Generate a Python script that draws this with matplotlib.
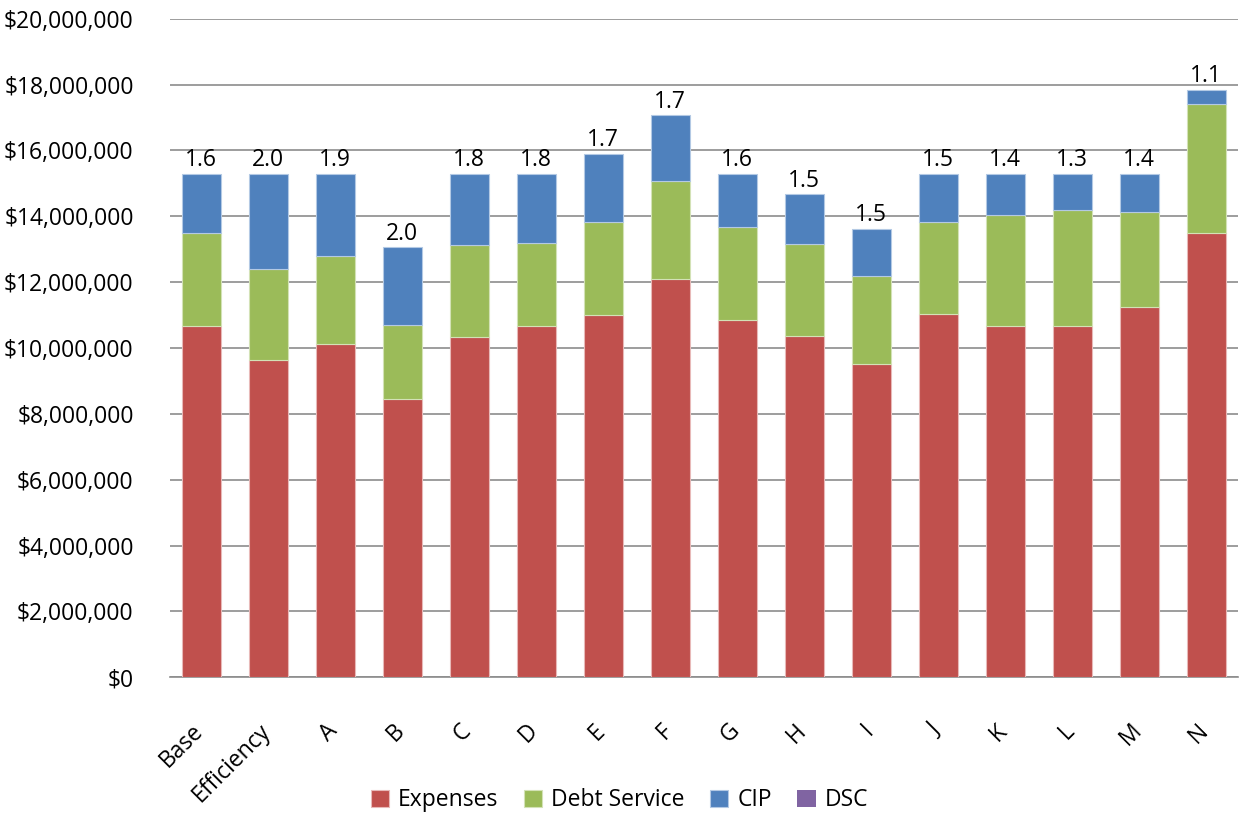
import numpy as np
import matplotlib.pyplot as plt
import matplotlib.transforms as mtransforms
from matplotlib.ticker import FuncFormatter

plt.rcParams['font.family'] = ['Open Sans', 'DejaVu Sans']

scenarios = ['Base', 'Efficiency', 'A', 'B', 'C', 'D', 'E', 'F', 'G', 'H', 'I', 'J', 'K', 'L', 'M', 'N']
expenses = [10.67, 9.64, 10.12, 8.45, 10.33, 10.67, 11.00, 12.10, 10.85, 10.36, 9.51, 11.03, 10.67, 10.67, 11.25, 13.50]
debt_total = [13.50, 12.40, 12.80, 10.70, 13.13, 13.19, 13.83, 15.08, 13.68, 13.16, 12.19, 13.83, 14.04, 14.19, 14.13, 17.42]
cip_total = [15.29, 15.29, 15.29, 13.07, 15.29, 15.29, 15.90, 17.08, 15.29, 14.68, 13.62, 15.29, 15.29, 15.29, 15.29, 17.84]
dsc = [1.6, 2.0, 1.9, 2.0, 1.8, 1.8, 1.7, 1.7, 1.6, 1.5, 1.5, 1.5, 1.4, 1.3, 1.4, 1.1]

expenses = np.array(expenses) * 1e6
debt = np.array(debt_total) * 1e6 - expenses
cip = np.array(cip_total) * 1e6 - np.array(debt_total) * 1e6

x = np.arange(len(scenarios))
w = 0.58

fig, ax = plt.subplots(figsize=(12.39, 8.15), dpi=100)
fig.subplots_adjust(left=0.137, right=0.999, top=0.977, bottom=0.169)

ax.bar(x, expenses, w, color='#C0504D', edgecolor='#E8B9B8', linewidth=0.8, label='Expenses', zorder=3)
ax.bar(x, debt, w, bottom=expenses, color='#9BBB59', edgecolor='#D3E2B6', linewidth=0.8, label='Debt Service', zorder=3)
ax.bar(x, cip, w, bottom=expenses + debt, color='#4F81BD', edgecolor='#B3C9E4', linewidth=0.8, label='CIP', zorder=3)
tops = expenses + debt + cip
ax.bar(x, dsc, w, bottom=tops, color='#8064A2', label='DSC', zorder=3)

for xi, t, d in zip(x, tops, dsc):
    ax.annotate(f'{d:.1f}', xy=(xi, t), xytext=(0, 1), textcoords='offset points',
                ha='center', va='bottom', fontsize=16.5)

ax.set_ylim(0, 20e6)
ax.set_yticks(np.arange(0, 20e6 + 1, 2e6))
ax.yaxis.set_major_formatter(FuncFormatter(lambda v, p: f'${v:,.0f}'))
ax.set_xlim(-0.47, len(scenarios) - 0.53)
ax.set_xticks(x)
ax.set_xticklabels(scenarios, rotation=45, ha='right', rotation_mode='anchor')
ax.tick_params(axis='both', labelsize=16.5, length=0)
ax.tick_params(axis='y', pad=26)
ax.tick_params(axis='x', pad=30)

# nudge the rotated labels a bit to the left like the original
shift = mtransforms.ScaledTranslation(-10 / 100, 0, fig.dpi_scale_trans)
for lbl in ax.get_xticklabels():
    lbl.set_transform(lbl.get_transform() + shift)

ax.grid(axis='y', color='#8C8C8C', linewidth=1.2, zorder=0)
for s in ['left', 'right', 'top']:
    ax.spines[s].set_visible(False)
ax.spines['bottom'].set_color('#8C8C8C')
ax.spines['bottom'].set_linewidth(1.2)

fig.legend(loc='center', bbox_to_anchor=(0.5, 0.018), ncol=4, frameon=False,
           fontsize=16.5, handlelength=0.8, handleheight=0.8, columnspacing=1.1, handletextpad=0.4)

plt.savefig('out.png', dpi=100)
